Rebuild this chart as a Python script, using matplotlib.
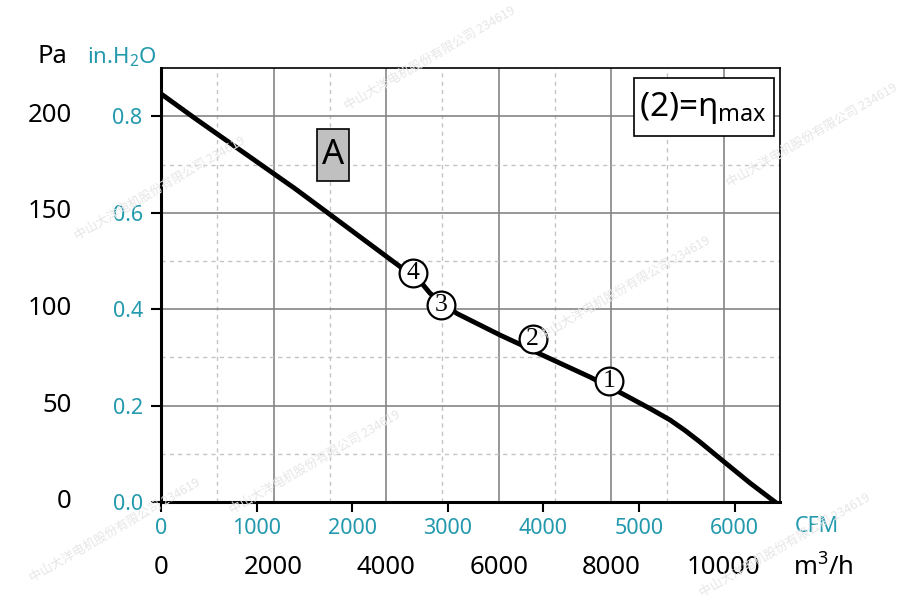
import numpy as np
import matplotlib; matplotlib.use("Agg")
import matplotlib.pyplot as plt
from matplotlib.patches import Rectangle
plt.rcParams.update({"font.family": ["Noto Sans", "DejaVu Sans"], "mathtext.default": "regular"})

PA_PER_INH2O = 249.089
M3H_PER_CFM = 1.69901

# fan curve (m3/h, Pa)
flow_m3h = [0, 604, 2381, 3003, 4247, 4633, 4781, 5255, 6025, 6380, 6736, 7624,
            8210, 8690, 9046, 9312, 9579, 9988, 10468, 10912]
pressure_pa = [211.0, 198.3, 162.0, 148.6, 121.7, 113.1, 107.9, 97.5, 86.3, 81.5, 76.5, 64.6,
               55.8, 48.3, 42.4, 37.0, 31.0, 21.2, 9.8, 0.0]

# operating points
op_labels = ["1", "2", "3", "4"]
op_flow = [7967, 6606, 4971, 4473]
op_pa = [62.6, 84.1, 101.9, 118.3]

pa_ticks = [200, 150, 100, 50, 0]
inh2o_ticks = [0.0, 0.2, 0.4, 0.6, 0.8]
cfm_ticks = [0, 1000, 2000, 3000, 4000, 5000, 6000]
m3h_ticks = [0, 2000, 4000, 6000, 8000, 10000]

TEAL, INK = "#2399ad", "#000000"
W, H = 905, 601

fig = plt.figure(figsize=(W / 100, H / 100), dpi=100)
ax = fig.add_axes([161 / W, 99 / H, 619 / W, 433.7 / H])
ax.set_xlim(0, 11000)
ax.set_ylim(0, 0.9 * PA_PER_INH2O)

# grid: solid every 2000 m3/h / 0.2 in.H2O, dashed in between
for k in range(1, 11):
    if k % 2 == 0:
        ax.axvline(k * 1000, color="#858585", lw=1.2, zorder=0)
    else:
        ax.axvline(k * 1000, color="#c4c4c4", lw=1.0, ls=(0, (3, 3)), zorder=0)
for k in range(1, 9):
    yv = k * 0.1 * PA_PER_INH2O
    if k % 2 == 0:
        ax.axhline(yv, color="#858585", lw=1.2, zorder=0)
    else:
        ax.axhline(yv, color="#c4c4c4", lw=1.0, ls=(0, (3, 3)), zorder=0)

ax.plot(flow_m3h, pressure_pa, color=INK, lw=3.5, solid_joinstyle="round", zorder=3)
ax.plot(op_flow, op_pa, ls="none", marker="o", ms=20, mfc="white", mec=INK, mew=1.6, zorder=4)
for lab, fx, fy in zip(op_labels, op_flow, op_pa):
    ax.text(fx, fy, lab, ha="center", va="center", fontsize=18.5, family="Liberation Serif",
            color=INK, zorder=5)

# spines / ticks
for s in ["left", "bottom"]:
    ax.spines[s].set_linewidth(2.2)
for s in ["top", "right"]:
    ax.spines[s].set_linewidth(1.2)
ax.set_yticks([v * PA_PER_INH2O for v in inh2o_ticks])
ax.set_yticklabels([f"{v:.1f}" for v in inh2o_ticks])
ax.set_xticks([v * M3H_PER_CFM for v in cfm_ticks])
ax.set_xticklabels([str(v) for v in cfm_ticks])
ax.tick_params(direction="out", length=7.2, width=1.5, color=INK, labelcolor=TEAL,
               labelsize=15.5)
ax.tick_params(axis="y", pad=6)
ax.tick_params(axis="x", pad=4)

# black Pa / m3/h scales
ytr = ax.get_yaxis_transform()
for v in pa_ticks:
    ax.text(-0.144, v, str(v), transform=ytr, ha="right", va="center", fontsize=18.5, color=INK)
xtr = ax.get_xaxis_transform()
for v in m3h_ticks:
    ax.text(v, -0.152, str(v), transform=xtr, ha="center", va="center", fontsize=18.5, color=INK)

# unit labels
fig.text(52 / W, 1 - 63 / H, "Pa", ha="center", va="baseline", fontsize=18.5, color=INK)
fig.text(87 / W, 1 - 63 / H, "in.H$_2$O", ha="left", va="baseline", fontsize=16, color=TEAL)
fig.text(795 / W, 1 - 527 / H, "CFM", ha="left", va="center", fontsize=15.5, color=TEAL)
fig.text(793 / W, 1 - 568 / H, "m$^3$/h", ha="left", va="center", fontsize=18.5, color=INK)

# boxes (axes-fraction positions)
ax.add_patch(Rectangle((0.252, 0.740), 0.0517, 0.120, transform=ax.transAxes,
                       fc="#c0c0c0", ec=INK, lw=1.2, zorder=5))
ax.text(0.252 + 0.0517 / 2, 0.800, "A", transform=ax.transAxes, ha="center", va="center",
        fontsize=25, color=INK, zorder=6)
ax.add_patch(Rectangle((0.764, 0.845), 0.2262, 0.1335, transform=ax.transAxes,
                       fc="white", ec=INK, lw=1.2, zorder=5))
ax.text(0.772, 0.908, "(2)=η$_{max}$", transform=ax.transAxes, ha="left", va="center",
        fontsize=24, color=INK, zorder=6)

# faint watermark
WM = "中山大洋电机股份有限公司 234619"
for cx, cy in [(160, 188), (315, 462), (625, 288), (430, 58), (812, 135), (785, 545), (115, 530)]:
    fig.text(cx / W, 1 - cy / H, WM, ha="center", va="center", rotation=30, fontsize=9,
             family=["Noto Sans CJK SC", "DejaVu Sans"], color="#e6e6e6", zorder=10)

fig.savefig("out.png", dpi=100, facecolor="white")
